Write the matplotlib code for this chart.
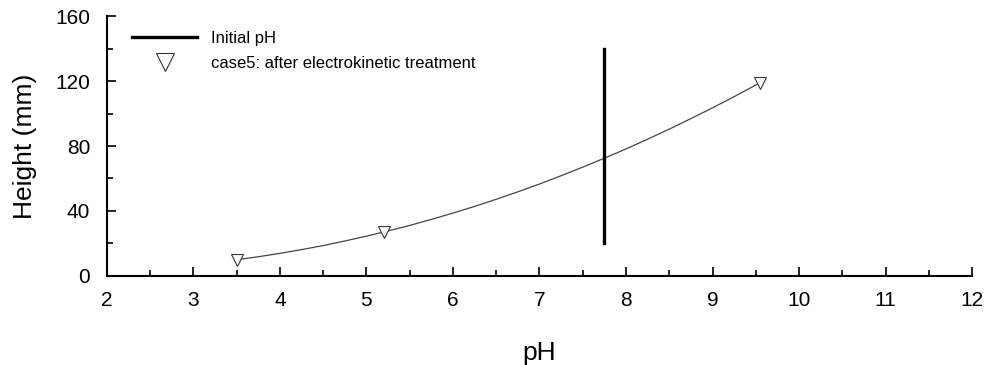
import matplotlib.pyplot as plt
from matplotlib.ticker import MultipleLocator

plt.rcParams['font.family'] = ['Liberation Sans', 'DejaVu Sans']

# measured points: case5 after electrokinetic treatment
ph_pts = [3.5, 5.2, 9.55]
height_pts = [10, 27, 119]

# trend line
ph_fit = [3.5, 3.75, 4.0, 4.25, 4.5, 4.75, 5.0, 5.25, 5.5, 5.75, 6.0, 6.25, 6.5,
          6.75, 7.0, 7.25, 7.5, 7.75, 8.0, 8.25, 8.5, 8.75, 9.0, 9.25, 9.55]
height_fit = [10.0, 11.8, 13.9, 16.2, 18.7, 21.5, 24.5, 27.7, 31.1, 34.8, 38.7, 42.8, 47.2,
              51.8, 56.6, 61.7, 67.0, 72.5, 78.2, 84.2, 90.4, 96.9, 103.5, 110.4, 119.0]

# initial pH marker line
initial_ph = 7.75
initial_range = [20, 140]

fig = plt.figure(figsize=(9.89, 3.65), dpi=100)
ax = fig.add_axes([0.108, 0.244, 0.875, 0.712])

ax.plot(ph_fit, height_fit, color='#444444', lw=0.9)
ax.plot([initial_ph, initial_ph], initial_range, color='black', lw=2.4, label='Initial pH')
ax.plot(ph_pts, height_pts, linestyle='none', marker='v', markersize=9,
        markerfacecolor='white', markeredgecolor='#333333', markeredgewidth=0.8,
        label='case5: after electrokinetic treatment')

ax.set_xlim(2, 12)
ax.set_ylim(0, 160)
ax.xaxis.set_major_locator(MultipleLocator(1))
ax.xaxis.set_minor_locator(MultipleLocator(0.5))
ax.yaxis.set_major_locator(MultipleLocator(40))
ax.yaxis.set_minor_locator(MultipleLocator(20))

for s in ['top', 'right']:
    ax.spines[s].set_visible(False)
for s in ['left', 'bottom']:
    ax.spines[s].set_linewidth(1.5)

ax.tick_params(which='both', direction='in', width=1.2, labelsize=15)
ax.tick_params(which='major', length=6.5)
ax.tick_params(which='minor', length=4)
ax.tick_params(axis='x', which='major', pad=11)
ax.tick_params(axis='y', which='major', pad=12)

ax.set_xlabel('pH', fontsize=19, labelpad=22)
ax.set_ylabel('Height (mm)', fontsize=19, labelpad=13)

ax.legend(loc='upper left', bbox_to_anchor=(0.012, 1.0), frameon=False, fontsize=12,
          handlelength=3.9, handletextpad=0.8, labelspacing=0.6, markerscale=1.5)

fig.savefig('out.png', dpi=100)
